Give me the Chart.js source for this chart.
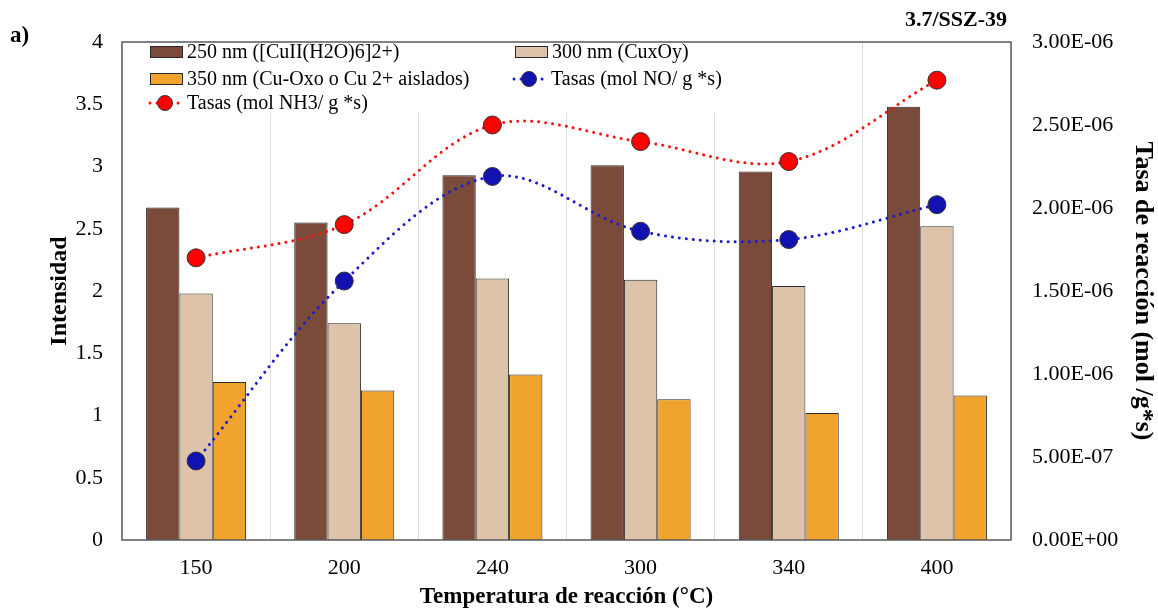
<!DOCTYPE html>
<html><head><meta charset="utf-8">
<script src="https://cdn.jsdelivr.net/npm/chart.js@4/dist/chart.umd.min.js"></script>
<style>html,body{margin:0;padding:0;background:#fff}#wrap{width:1158px;height:611px}</style>
</head><body><div id="wrap"><canvas id="c" width="1158" height="611"></canvas></div>
<script>
const categories = ['150','200','240','300','340','400'];
const int250 = [2.67, 2.55, 2.93, 3.01, 2.96, 3.48];
const int300 = [1.98, 1.74, 2.10, 2.09, 2.04, 2.52];
const int350 = [1.27, 1.20, 1.33, 1.13, 1.02, 1.16];
const rateNO = [4.76e-7, 1.56e-6, 2.19e-6, 1.86e-6, 1.81e-6, 2.02e-6];
const rateNH3 = [1.70e-6, 1.90e-6, 2.50e-6, 2.40e-6, 2.28e-6, 2.77e-6];
const leftTicks = [0,0.5,1,1.5,2,2.5,3,3.5,4];
const rightTicks = [0,5e-7,1e-6,1.5e-6,2e-6,2.5e-6,3e-6];

const SERIF = '"Liberation Serif", "Times New Roman", serif';
const C = {brown:'#7a4a3a', tan:'#dcc3a9', orange:'#f0a42e', red:'#ff0000', blue:'#1212b0'};

function fmtE(v){
  let s = Number(v).toExponential(2).toUpperCase();
  return s.replace(/E([+-])(\d)$/, 'E$10$2');
}

const legendPlugin = {
  id:'customLegend',
  beforeDatasetsDraw(chart){
    const ctx = chart.ctx, a = chart.chartArea;
    ctx.save();
    ctx.fillStyle = '#fff';
    ctx.fillRect(a.left+1, a.top+1, 640, 70);
    ctx.font = '20px ' + SERIF;
    ctx.textBaseline = 'middle';
    ctx.fillStyle = '#000';
    const ds = chart.data.datasets;
    const items = [
      {d:ds[0], x:150, y:52, type:'box'},
      {d:ds[1], x:515, y:52, type:'box'},
      {d:ds[2], x:150, y:79, type:'box'},
      {d:ds[3], x:512, y:79, type:'line'},
      {d:ds[4], x:148, y:103, type:'line'}
    ];
    items.forEach(it=>{
      if(it.type==='box'){
        ctx.fillStyle = it.d.backgroundColor;
        ctx.fillRect(it.x, it.y-6, 33, 12);
        ctx.strokeStyle = '#2a2a2a'; ctx.lineWidth = 1;
        ctx.strokeRect(it.x+0.5, it.y-5.5, 32, 11);
        ctx.fillStyle = '#000';
        ctx.fillText(it.d.label, it.x+37, it.y+1);
      } else {
        ctx.save();
        ctx.strokeStyle = it.d.borderColor; ctx.lineWidth = 3; ctx.lineCap='round';
        ctx.setLineDash([0.01,7]);
        ctx.beginPath(); ctx.moveTo(it.x+2, it.y); ctx.lineTo(it.x+34, it.y); ctx.stroke();
        ctx.restore();
        ctx.beginPath(); ctx.arc(it.x+17, it.y, 7.5, 0, Math.PI*2);
        ctx.fillStyle = it.d.pointBackgroundColor; ctx.fill();
        ctx.strokeStyle = '#333'; ctx.lineWidth = 1; ctx.stroke();
        ctx.fillStyle = '#000';
        ctx.fillText(it.d.label, it.x+39, it.y+1);
      }
    });
    ctx.restore();
  },
  afterDraw(chart){
    const ctx = chart.ctx, a = chart.chartArea;
    ctx.save();
    ctx.strokeStyle = '#5a5a5a'; ctx.lineWidth = 1.5;
    ctx.strokeRect(a.left, a.top, a.right-a.left, a.bottom-a.top);
    ctx.fillStyle = '#000';
    ctx.font = 'bold 23px ' + SERIF;
    ctx.textBaseline = 'middle';
    ctx.textAlign = 'left';
    ctx.fillText('a)', 10, 36);
    ctx.font = 'bold 22px ' + SERIF;
    ctx.textAlign = 'right';
    ctx.fillText('3.7/SSZ-39', 1007, 20);
    ctx.restore();
  }
};

new Chart(document.getElementById('c'), {
  data:{
    labels: categories,
    datasets:[
      {type:'bar', label:'250 nm ([CuII(H2O)6]2+)', data:int250, backgroundColor:C.brown, borderColor:'#2a2a2a', borderWidth:1, yAxisID:'y', order:2},
      {type:'bar', label:'300 nm (CuxOy)', data:int300, backgroundColor:C.tan, borderColor:'#2a2a2a', borderWidth:1, yAxisID:'y', order:2},
      {type:'bar', label:'350 nm (Cu-Oxo o Cu 2+ aislados)', data:int350, backgroundColor:C.orange, borderColor:'#2a2a2a', borderWidth:1, yAxisID:'y', order:2},
      {type:'line', label:'Tasas (mol NO/ g *s)', data:rateNO, borderColor:'#1a1ad0', borderWidth:3, borderDash:[0.01,7], borderCapStyle:'round', tension:0.35,
        pointRadius:9, pointBackgroundColor:C.blue, pointBorderColor:'#333', pointBorderWidth:1, yAxisID:'y1', order:0},
      {type:'line', label:'Tasas (mol NH3/ g *s)', data:rateNH3, borderColor:'#ff1010', borderWidth:3, borderDash:[0.01,7], borderCapStyle:'round', tension:0.35,
        pointRadius:9, pointBackgroundColor:C.red, pointBorderColor:'#333', pointBorderWidth:1, yAxisID:'y1', order:0}
    ]
  },
  options:{
    responsive:false, animation:false,
    layout:{padding:{top:42,left:0,right:0,bottom:0}},
    plugins:{legend:{display:false}, tooltip:{enabled:false}},
    datasets:{bar:{categoryPercentage:0.675, barPercentage:1}},
    scales:{
      x:{
        type:'category', offset:true,
        grid:{display:true, offset:true, color:'#dcdcdc', lineWidth:1, drawTicks:false},
        border:{display:false},
        ticks:{font:{family:SERIF, size:22}, color:'#000', padding:15, maxRotation:0},
        title:{display:true, text:'Temperatura de reacción (°C)', font:{family:SERIF, size:23, weight:'bold'}, color:'#000', padding:{top:0,bottom:0}},
        afterFit(s){ s.height = 71; }
      },
      y:{
        position:'left', min:0, max:4,
        afterBuildTicks(s){ s.ticks = leftTicks.map(v=>({value:v})); },
        grid:{display:false, drawTicks:false}, border:{display:false},
        ticks:{font:{family:SERIF, size:22}, color:'#000', padding:19, callback:v=>String(v)},
        title:{display:true, text:'Intensidad', font:{family:SERIF, size:24, weight:'bold'}, color:'#000', padding:{top:45,bottom:0}},
        afterFit(s){ s.width = 122; }
      },
      y1:{
        position:'right', min:0, max:3e-6,
        afterBuildTicks(s){ s.ticks = rightTicks.map(v=>({value:v})); },
        grid:{display:false, drawTicks:false}, border:{display:false},
        ticks:{font:{family:SERIF, size:22}, color:'#000', padding:21, callback:v=>fmtE(v)},
        title:{display:true, text:'Tasa de reacción (mol /g*s)', font:{family:SERIF, size:26, weight:'bold'}, color:'#000', padding:{top:0,bottom:0}},
        afterFit(s){ s.width = 147; }
      }
    }
  },
  plugins:[legendPlugin]
});
</script></body></html>
